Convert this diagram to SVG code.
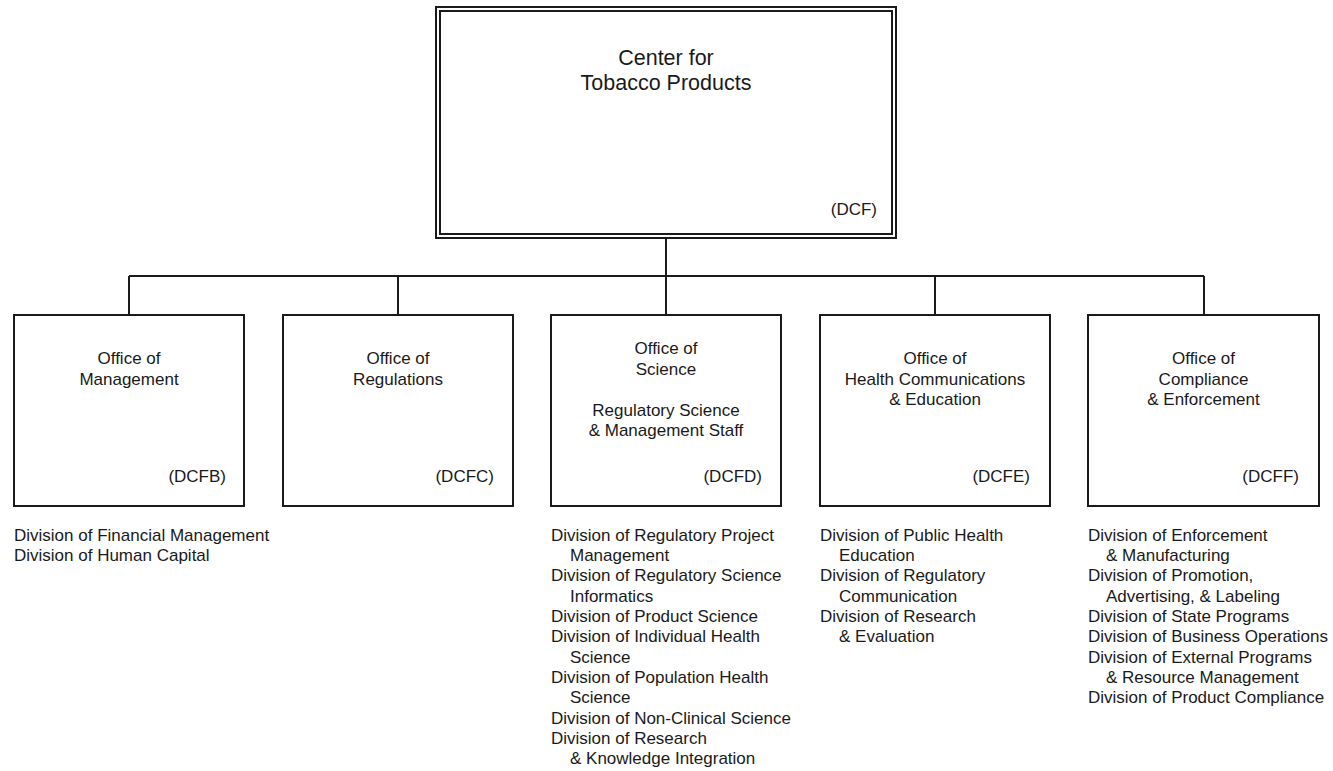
<svg xmlns="http://www.w3.org/2000/svg" width="1333" height="771" viewBox="0 0 1333 771">
<style>
.bg{fill:#ffffff}
.box{fill:#ffffff;stroke:#1a1a1a;stroke-width:2}
.ln{fill:none;stroke:#1a1a1a;stroke-width:2}
text{font-family:"Liberation Sans",Arial,sans-serif;fill:#1a1a1a}
.t{font-size:21.5px;text-anchor:middle}
.c{font-size:17px;text-anchor:middle}
.code{font-size:17px;text-anchor:end}
.lst{font-size:17px}
</style>
<rect class="bg" x="0" y="0" width="1333" height="771"/>
<g id="connectors">
<path class="ln" d="M666 238 V276 M129 276 H1204 M129 276 V315 M398 276 V315 M666 276 V315 M935 276 V315 M1204 276 V315"/>
</g>
<g id="ctp">
<rect class="box" x="436" y="7" width="460" height="231"/>
<rect class="box" x="440" y="11" width="452" height="223"/>
<text class="t" x="666" y="65">Center for</text>
<text class="t" x="666" y="90">Tobacco Products</text>
<text class="code" x="877" y="215">(DCF)</text>
</g>
<g id="dcfb">
<rect class="box" x="14" y="315" width="230" height="191"/>
<text class="c" x="129" y="364">Office of</text>
<text class="c" x="129" y="384.5">Management</text>
<text class="code" x="226" y="482">(DCFB)</text>
<text class="lst" x="14" y="540.5">Division of Financial Management</text>
<text class="lst" x="14" y="560.9">Division of Human Capital</text>
</g>
<g id="dcfc">
<rect class="box" x="283" y="315" width="230" height="191"/>
<text class="c" x="398" y="364">Office of</text>
<text class="c" x="398" y="384.5">Regulations</text>
<text class="code" x="494" y="482">(DCFC)</text>
</g>
<g id="dcfd">
<rect class="box" x="551" y="315" width="230" height="191"/>
<text class="c" x="666" y="354">Office of</text>
<text class="c" x="666" y="374.5">Science</text>
<text class="c" x="666" y="415.5">Regulatory Science</text>
<text class="c" x="666" y="436">&amp; Management Staff</text>
<text class="code" x="762" y="482">(DCFD)</text>
<text class="lst" x="551" y="540.5">Division of Regulatory Project</text>
<text class="lst" x="570" y="560.9">Management</text>
<text class="lst" x="551" y="581.2">Division of Regulatory Science</text>
<text class="lst" x="570" y="601.6">Informatics</text>
<text class="lst" x="551" y="621.9">Division of Product Science</text>
<text class="lst" x="551" y="642.3">Division of Individual Health</text>
<text class="lst" x="570" y="662.6">Science</text>
<text class="lst" x="551" y="683">Division of Population Health</text>
<text class="lst" x="570" y="703.3">Science</text>
<text class="lst" x="551" y="723.7">Division of Non-Clinical Science</text>
<text class="lst" x="551" y="744">Division of Research</text>
<text class="lst" x="570" y="764.4">&amp; Knowledge Integration</text>
</g>
<g id="dcfe">
<rect class="box" x="820" y="315" width="230" height="191"/>
<text class="c" x="935" y="364">Office of</text>
<text class="c" x="935" y="384.5">Health Communications</text>
<text class="c" x="935" y="405">&amp; Education</text>
<text class="code" x="1030" y="482">(DCFE)</text>
<text class="lst" x="820" y="540.5">Division of Public Health</text>
<text class="lst" x="839" y="560.9">Education</text>
<text class="lst" x="820" y="581.2">Division of Regulatory</text>
<text class="lst" x="839" y="601.6">Communication</text>
<text class="lst" x="820" y="621.9">Division of Research</text>
<text class="lst" x="839" y="642.3">&amp; Evaluation</text>
</g>
<g id="dcff">
<rect class="box" x="1088" y="315" width="231" height="191"/>
<text class="c" x="1203.5" y="364">Office of</text>
<text class="c" x="1203.5" y="384.5">Compliance</text>
<text class="c" x="1203.5" y="405">&amp; Enforcement</text>
<text class="code" x="1299" y="482">(DCFF)</text>
<text class="lst" x="1088" y="540.5">Division of Enforcement</text>
<text class="lst" x="1106" y="560.9">&amp; Manufacturing</text>
<text class="lst" x="1088" y="581.2">Division of Promotion,</text>
<text class="lst" x="1106" y="601.6">Advertising, &amp; Labeling</text>
<text class="lst" x="1088" y="621.9">Division of State Programs</text>
<text class="lst" x="1088" y="642.3">Division of Business Operations</text>
<text class="lst" x="1088" y="662.6">Division of External Programs</text>
<text class="lst" x="1106" y="683">&amp; Resource Management</text>
<text class="lst" x="1088" y="703.3">Division of Product Compliance</text>
</g>
</svg>
